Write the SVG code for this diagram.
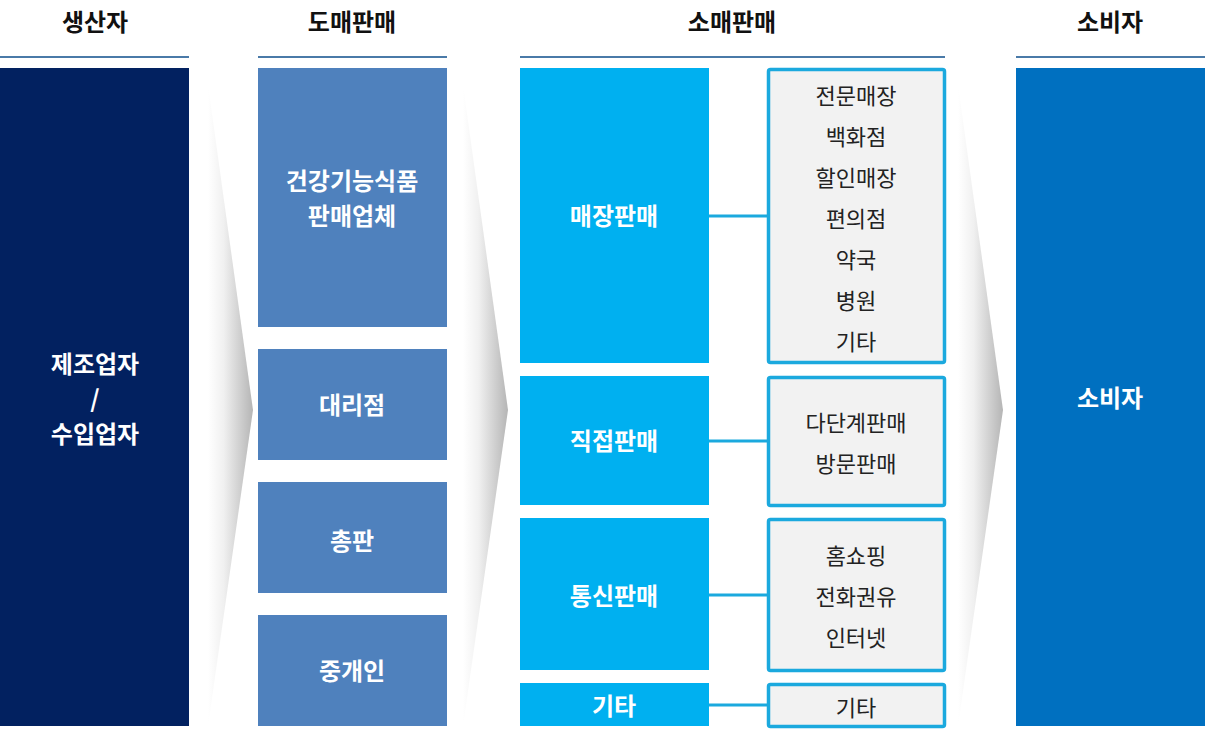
<svg xmlns="http://www.w3.org/2000/svg" width="1205" height="746" viewBox="0 0 1205 746">
<style>
.hdr{font-family:"Noto Sans CJK KR","Noto Sans",sans-serif;font-size:24px;font-weight:700;fill:#111;text-anchor:middle}
.hl{stroke:#4a7aa8;stroke-width:2}
.w{font-family:"Noto Sans CJK KR","Noto Sans",sans-serif;font-size:24px;font-weight:700;fill:#fff;text-anchor:middle}
.d{font-family:"Noto Sans CJK KR","Noto Sans",sans-serif;font-size:22px;font-weight:400;fill:#222;text-anchor:middle}
.box2{fill:#4f81bd}
.box3{fill:#00b0f0}
.sub{fill:#f2f2f2;stroke:#1ba9de;stroke-width:3.5}
.con{stroke:#1ba9de;stroke-width:3}
.chev{fill:url(#cg)}
</style>
<defs>
<linearGradient id="cg" x1="0" y1="0" x2="1" y2="0">
<stop offset="0" stop-color="#ffffff"/>
<stop offset="0.35" stop-color="#f0f0f0"/>
<stop offset="1" stop-color="#b5b5b5"/>
</linearGradient>
</defs>
<rect width="1205" height="746" fill="#fff"/>
<g id="headers">
<text class="hdr" x="95" y="31">생산자</text>
<text class="hdr" x="352" y="31">도매판매</text>
<text class="hdr" x="732" y="31">소매판매</text>
<text class="hdr" x="1110" y="31">소비자</text>
<line class="hl" x1="0" y1="57" x2="189" y2="57"/>
<line class="hl" x1="258" y1="57" x2="447" y2="57"/>
<line class="hl" x1="520" y1="57" x2="945" y2="57"/>
<line class="hl" x1="1016" y1="57" x2="1205" y2="57"/>
</g>
<g id="chevrons">
<polygon class="chev" points="208,85 253,410 208,726"/>
<polygon class="chev" points="463,85 508,410 463,726"/>
<polygon class="chev" points="958,85 1003,410 958,726"/>
</g>
<g id="connectors">
<line class="con" x1="709" y1="216" x2="767" y2="216"/>
<line class="con" x1="709" y1="441" x2="767" y2="441"/>
<line class="con" x1="709" y1="595" x2="767" y2="595"/>
<line class="con" x1="709" y1="705" x2="767" y2="705"/>
</g>
<g id="producer">
<rect x="0" y="68" width="189" height="658" fill="#022160"/>
<text class="w"><tspan x="95" y="372.5">제조업자</tspan><tspan x="95" y="407.5">/</tspan><tspan x="95" y="442.5">수입업자</tspan></text>
</g>
<g id="wholesale-health">
<rect class="box2" x="258" y="68" width="189" height="259"/>
<text class="w"><tspan x="352" y="190">건강기능식품</tspan><tspan x="352" y="225">판매업체</tspan></text>
</g>
<g id="wholesale-agency">
<rect class="box2" x="258" y="349" width="189" height="111"/>
<text class="w" x="352" y="414">대리점</text>
</g>
<g id="wholesale-distributor">
<rect class="box2" x="258" y="482" width="189" height="111"/>
<text class="w" x="352" y="550">총판</text>
</g>
<g id="wholesale-broker">
<rect class="box2" x="258" y="615" width="189" height="111"/>
<text class="w" x="352" y="680">중개인</text>
</g>
<g id="retail-store">
<rect class="box3" x="520" y="68" width="189" height="295"/>
<text class="w" x="614" y="225">매장판매</text>
</g>
<g id="retail-direct">
<rect class="box3" x="520" y="376" width="189" height="129"/>
<text class="w" x="614" y="450">직접판매</text>
</g>
<g id="retail-mail">
<rect class="box3" x="520" y="518" width="189" height="152"/>
<text class="w" x="614" y="605">통신판매</text>
</g>
<g id="retail-other">
<rect class="box3" x="520" y="683" width="189" height="43"/>
<text class="w" x="614" y="715">기타</text>
</g>
<g id="store-list">
<rect class="sub" x="768.5" y="69.5" width="176" height="293" rx="2"/>
<text class="d" x="856" y="104">전문매장</text>
<text class="d" x="856" y="145">백화점</text>
<text class="d" x="856" y="186">할인매장</text>
<text class="d" x="856" y="227">편의점</text>
<text class="d" x="856" y="268">약국</text>
<text class="d" x="856" y="309">병원</text>
<text class="d" x="856" y="350">기타</text>
</g>
<g id="direct-list">
<rect class="sub" x="768.5" y="377.5" width="176" height="128" rx="2"/>
<text class="d" x="856" y="431">다단계판매</text>
<text class="d" x="856" y="472">방문판매</text>
</g>
<g id="mail-list">
<rect class="sub" x="768.5" y="519.5" width="176" height="151" rx="2"/>
<text class="d" x="856" y="564">홈쇼핑</text>
<text class="d" x="856" y="605">전화권유</text>
<text class="d" x="856" y="646">인터넷</text>
</g>
<g id="other-list">
<rect class="sub" x="768.5" y="684.5" width="176" height="42" rx="2"/>
<text class="d" x="856" y="716">기타</text>
</g>
<g id="consumer">
<rect x="1016" y="68" width="189" height="658" fill="#0070c0"/>
<text class="w" x="1110" y="407">소비자</text>
</g>
</svg>
